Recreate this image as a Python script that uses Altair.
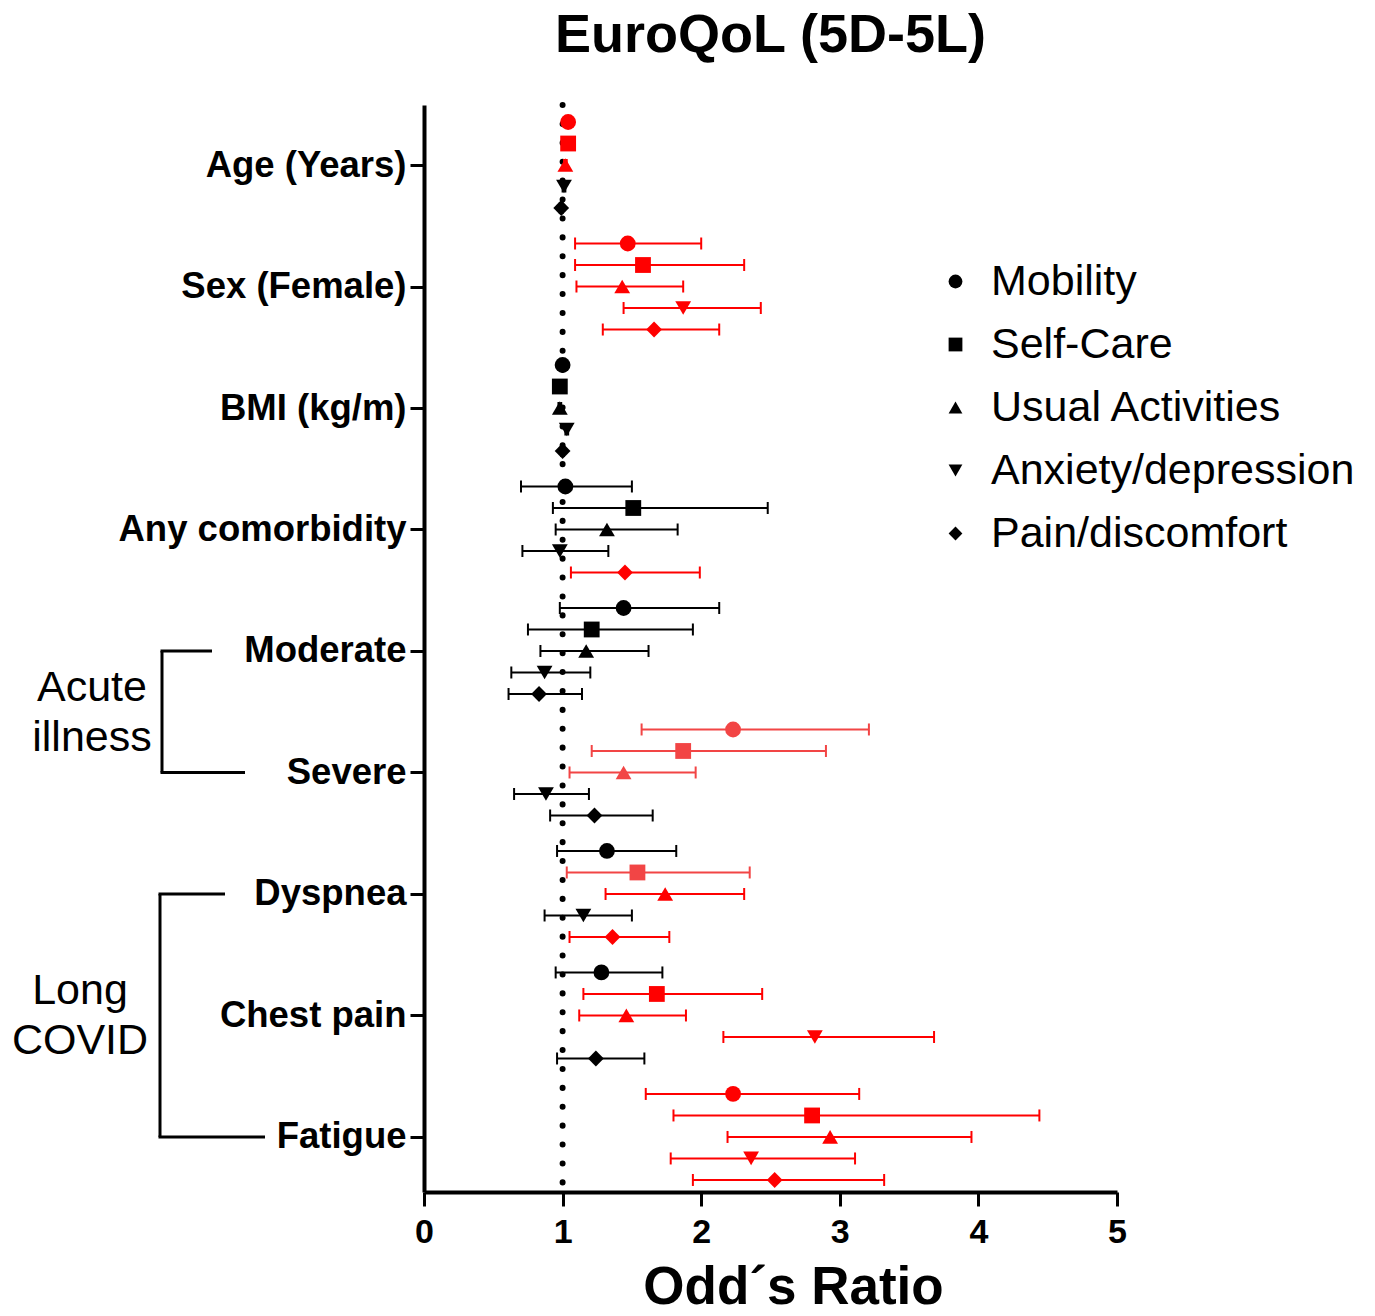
import altair as alt
import pandas as pd

groups = ["Age (Years)", "Sex (Female)", "BMI (kg/m)", "Any comorbidity",
          "Moderate", "Severe", "Dyspnea", "Chest pain", "Fatigue"]
measures = ["Mobility", "Self-Care", "Usual Activities", "Anxiety/depression", "Pain/discomfort"]

mob_or = [1.04, 1.47, 1.00, 1.02, 1.44, 2.23, 1.32, 1.28, 2.23]
mob_lo = [1.03, 1.09, 0.99, 0.70, 0.98, 1.57, 0.96, 0.95, 1.60]
mob_hi = [1.05, 2.00, 1.01, 1.50, 2.13, 3.21, 1.82, 1.72, 3.14]
mob_col = ["red", "red", "black", "black", "black", "lightred", "black", "black", "red"]

sc_or = [1.04, 1.58, 0.98, 1.51, 1.21, 1.87, 1.54, 1.68, 2.80]
sc_lo = [1.03, 1.09, 0.97, 0.93, 0.75, 1.21, 1.03, 1.15, 1.80]
sc_hi = [1.05, 2.31, 0.99, 2.48, 1.94, 2.90, 2.35, 2.44, 4.44]
sc_col = ["red", "red", "black", "black", "black", "lightred", "lightred", "red", "red"]

ua_or = [1.02, 1.43, 0.98, 1.32, 1.17, 1.44, 1.74, 1.46, 2.93]
ua_lo = [1.01, 1.10, 0.97, 0.95, 0.84, 1.05, 1.31, 1.12, 2.19]
ua_hi = [1.03, 1.87, 0.99, 1.83, 1.62, 1.96, 2.31, 1.89, 3.95]
ua_col = ["red", "red", "black", "black", "black", "lightred", "red", "red", "red"]

ad_or = [1.01, 1.87, 1.03, 0.98, 0.87, 0.88, 1.15, 2.82, 2.36]
ad_lo = [1.00, 1.44, 1.02, 0.71, 0.63, 0.65, 0.87, 2.16, 1.78]
ad_hi = [1.02, 2.43, 1.04, 1.33, 1.20, 1.19, 1.50, 3.68, 3.11]
ad_col = ["black", "red", "black", "black", "black", "black", "black", "red", "red"]

pd_or = [0.99, 1.66, 1.00, 1.45, 0.83, 1.23, 1.36, 1.24, 2.53]
pd_lo = [0.98, 1.29, 0.99, 1.06, 0.61, 0.91, 1.05, 0.96, 1.94]
pd_hi = [1.00, 2.13, 1.01, 1.99, 1.14, 1.65, 1.77, 1.59, 3.32]
pd_col = ["black", "red", "black", "red", "black", "black", "red", "black", "red"]

x_ticks = [0, 1, 2, 3, 4, 5]
sections = ["Acute\nillness", "Long\nCOVID"]

series = [
    (mob_or, mob_lo, mob_hi, mob_col),
    (sc_or, sc_lo, sc_hi, sc_col),
    (ua_or, ua_lo, ua_hi, ua_col),
    (ad_or, ad_lo, ad_hi, ad_col),
    (pd_or, pd_lo, pd_hi, pd_col),
]

SUB = 0.177  # vertical spacing of the five measures inside one group (group units)
rows = []
for k, (o, lo, hi, col) in enumerate(series):
    for g in range(len(groups)):
        rows.append({"group": groups[g], "measure": measures[k],
                     "pos": g + (k - 2) * SUB,
                     "or": o[g], "lo": lo[g], "hi": hi[g], "col": col[g]})
df = pd.DataFrame(rows)

FONT = "Liberation Sans"
label_expr = "[" + ",".join("'" + s + "'" for s in groups) + "][datum.value]"

x_enc = alt.X("or:Q", scale=alt.Scale(domain=[0, 5], nice=False, zero=False),
              axis=alt.Axis(values=x_ticks, format="d", title="Odd\u00b4s Ratio",
                            grid=False, tickSize=14, tickWidth=3, domainWidth=4,
                            domainColor="black", tickColor="black",
                            labelFont=FONT, labelFontWeight="bold", labelFlush=False,
                            labelFontSize=34, labelColor="black", labelPadding=9,
                            titleFont=FONT, titleFontWeight="bold", titleFontSize=53,
                            titleColor="black", titlePadding=12, titleX=369,
                            titleAlign="center"))
y_scale = alt.Scale(domain=[-0.494, 8.453], reverse=True, nice=False, zero=False)
y_enc = alt.Y("pos:Q", scale=y_scale,
              axis=alt.Axis(values=list(range(len(groups))), labelExpr=label_expr,
                            title=None, grid=False, tickSize=14, tickWidth=3,
                            domainWidth=4, domainColor="black", tickColor="black",
                            labelFont=FONT, labelFontWeight="bold", labelFontSize=36.5,
                            labelColor="black", labelPadding=4, labelLimit=500,
                            labelFlush=False))
color_enc = alt.Color("col:N", scale=alt.Scale(domain=["red", "lightred", "black"],
                                               range=["#ff0000", "#f24545", "#000000"]),
                      legend=None)

base = alt.Chart(df)

ref = alt.Chart(pd.DataFrame({"v": [1]})).mark_rule(
    strokeDash=[0.1, 18.8], strokeCap="round", strokeWidth=6, color="black"
).encode(x=alt.X("v:Q", scale=alt.Scale(domain=[0, 5])))

bars = base.mark_rule(strokeWidth=2).encode(
    x=alt.X("lo:Q"), x2="hi:Q", y="pos:Q", color=color_enc)
cap_lo = base.mark_rule(strokeWidth=2, yOffset=-6, y2Offset=6).encode(
    x="lo:Q", y="pos:Q", y2="pos:Q", color=color_enc)
cap_hi = base.mark_rule(strokeWidth=2, yOffset=-6, y2Offset=6).encode(
    x="hi:Q", y="pos:Q", y2="pos:Q", color=color_enc)

points = base.mark_point(filled=True, size=250, opacity=1).encode(
    x=x_enc, y=y_enc, color=color_enc,
    shape=alt.Shape("measure:N",
                    scale=alt.Scale(domain=measures,
                                    range=["circle", "square", "triangle-up",
                                           "triangle-down", "diamond"]),
                    legend=alt.Legend(orient="none", legendX=510, legendY=155,
                                      title=None, labelFont=FONT, labelFontSize=43,
                                      labelColor="black", symbolSize=190,
                                      symbolFillColor="black", symbolStrokeColor="black",
                                      symbolStrokeWidth=0,
                                      rowPadding=19, labelOffset=14, padding=0,
                                      labelLimit=600)))

one = pd.DataFrame({"a": [0]})

def bracket(xv, top_g, bot_g, top_end, bot_end):
    v = alt.Chart(one).mark_rule(strokeWidth=3, color="black").encode(
        x=alt.value(xv), y=alt.datum(top_g), y2=alt.datum(bot_g))
    t = alt.Chart(one).mark_rule(strokeWidth=3, color="black").encode(
        x=alt.value(xv - 1.5), x2=alt.value(top_end), y=alt.datum(top_g))
    b = alt.Chart(one).mark_rule(strokeWidth=3, color="black").encode(
        x=alt.value(xv - 1.5), x2=alt.value(bot_end), y=alt.datum(bot_g))
    return v + t + b

br1 = bracket(-262, 4, 5, -212, -179)
br2 = bracket(-264, 6, 8, -199, -159)

txt1 = alt.Chart(pd.DataFrame({"t": [sections[0]]})).mark_text(
    font=FONT, fontSize=43, lineHeight=50, lineBreak="\n", align="center",
    baseline="middle", color="black", dy=-24).encode(
    x=alt.value(-332), y=alt.datum(4.5), text="t:N")
txt2 = alt.Chart(pd.DataFrame({"t": [sections[1]]})).mark_text(
    font=FONT, fontSize=43, lineHeight=50, lineBreak="\n", align="center",
    baseline="middle", color="black", dy=-24).encode(
    x=alt.value(-344), y=alt.datum(7.0), text="t:N")

chart = alt.layer(ref, bars, cap_lo, cap_hi, points, br1, br2, txt1, txt2).properties(
    width=693, height=1087,
    autosize=alt.AutoSizeParams(type="none"),
    padding={"left": 416, "top": 97, "right": 245, "bottom": 115},
    title=alt.TitleParams("EuroQoL (5D-5L)", font=FONT, fontWeight="bold",
                          fontSize=54, anchor="middle", offset=39, color="black"),
).configure_view(stroke=None)

chart.save("out.html", embed_options={"renderer": "svg", "actions": False})
